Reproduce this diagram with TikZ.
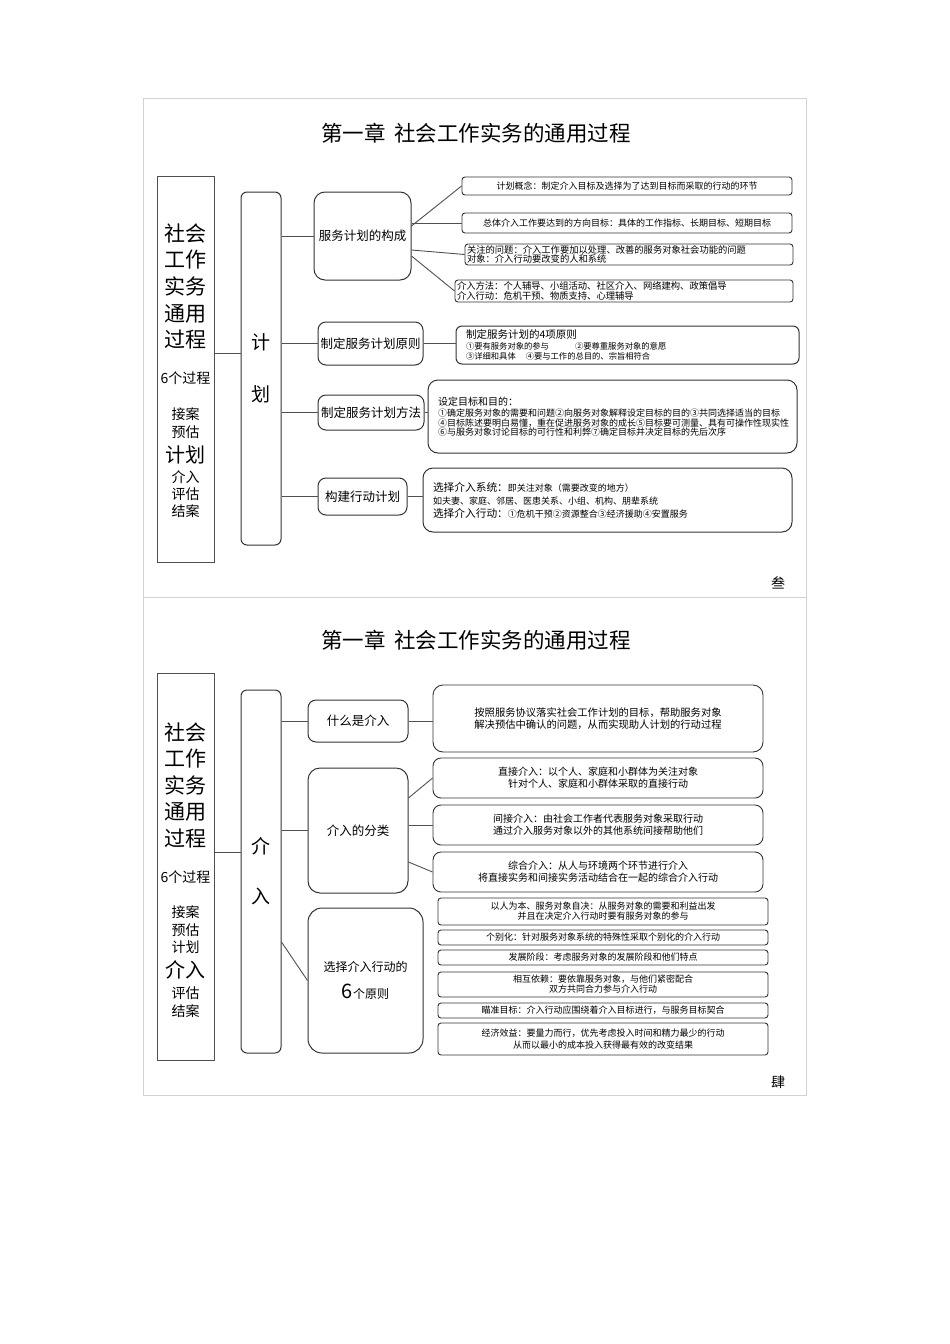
\documentclass[tikz,border=0pt]{standalone}
\usepackage{fontspec}
\setmainfont{Noto Sans CJK SC}
\usepackage{tikz}
\usetikzlibrary{positioning,calc}
\definecolor{swInk}{HTML}{333333}
\definecolor{swLine}{HTML}{505050}
\definecolor{swFrame}{HTML}{D2D2D2}
\tikzset{
  headline/.style={font=\fontsize{21.5}{24}\selectfont, inner sep=0pt},
  pagemark/.style={font=\fontsize{14}{16}\selectfont, inner sep=0pt},
  mainbox/.style={rectangle, draw=swLine, line width=0.9pt, minimum width=57pt, minimum height=386pt},
  coltext/.style={align=center, inner sep=0pt},
  stagebox/.style={rectangle, rounded corners=6pt, draw=swInk, line width=1pt, align=center, minimum width=40pt, font=\fontsize{19}{52}\selectfont},
  topic/.style={rectangle, rounded corners=8pt, draw=swInk, line width=1pt, align=center, inner sep=1pt, font=\fontsize{12.5}{14}\selectfont},
  leaf/.style={rectangle, rounded corners=3pt, draw=swInk, line width=0.9pt, align=center, minimum width=330pt, inner sep=1pt, font=\fontsize{9}{10}\selectfont},
  note/.style={rectangle, rounded corners=10pt, draw=swInk, line width=1pt, align=left, inner xsep=10pt, inner ysep=2pt, font=\fontsize{9}{11}\selectfont},
  link/.style={draw=swLine, line width=0.9pt},
  pageframe/.style={draw=swFrame, line width=0.7pt}
}
\begin{document}
\begin{tikzpicture}[x=1pt, y=-1pt]
\useasboundingbox (0,0) rectangle (950,1344);
% two sheets
\draw[pageframe] (143,98) rectangle (806,597);
\draw[pageframe] (143,597) rectangle (806,1095);

% ---- sheet 1: 计划
\node[headline] (title1) at (476,133) {第一章\hspace{9pt}社会工作实务的通用过程};
\node[mainbox] (main1) at (185.5,369) {};
\node[coltext, font=\fontsize{21}{26.7}\selectfont] (name1) at (185.5,286.5) {社会\\工作\\实务\\通用\\过程};
\node[coltext, font=\fontsize{14}{16}\selectfont] (count1) at (185.5,378) {6个过程};
\node[coltext, font=\fontsize{14}{18}\selectfont] (prev1) at (185.5,423) {接案\\预估};
\node[coltext, font=\fontsize{20}{22}\selectfont] (cur1) at (185.5,455) {计划};
\node[coltext, font=\fontsize{14}{17}\selectfont] (next1) at (185.5,494) {介入\\评估\\结案};
\node[stagebox, minimum height=353pt] (plan) at (261,368.5) {计\\划};

\node[topic, minimum width=97pt, minimum height=88pt, rounded corners=11pt] (cons) at (362.5,236) {服务计划的构成};
\node[topic, minimum width=105pt, minimum height=43pt] (prin) at (370.5,343.5) {制定服务计划原则};
\node[topic, minimum width=106pt, minimum height=35pt] (meth) at (371,412.5) {制定服务计划方法};
\node[topic, minimum width=89pt, minimum height=37pt] (act) at (362.5,496.5) {构建行动计划};

\node[leaf, minimum height=18pt] (a1) at (627,186) {计划概念：制定介入目标及选择为了达到目标而采取的行动的环节};
\node[leaf, minimum height=20pt] (a2) at (627,223) {总体介入工作要达到的方向目标：具体的工作指标、长期目标、短期目标};
\node[leaf, align=left, text width=324pt, minimum width=328pt, minimum height=21pt, inner xsep=2pt, font=\fontsize{9.3}{9.5}\selectfont] (a3) at (629,254.5) {关注的问题：介入工作要加以处理、改善的服务对象社会功能的问题\\对象：介入行动要改变的人和系统};
\node[leaf, align=left, text width=334pt, minimum width=338pt, minimum height=22pt, inner xsep=2pt, font=\fontsize{9.3}{10}\selectfont] (a4) at (624,291) {介入方法：个人辅导、小组活动、社区介入、网络建构、政策倡导\\介入行动：危机干预、物质支持、心理辅导};
\node[note, text width=323pt, minimum height=38pt, rounded corners=6pt, font=\fontsize{8.3}{10.5}\selectfont] (pb) at (627.5,345) {{\fontsize{10.5}{11}\selectfont 制定服务计划的4项原则}\\①要有服务对象的参与\hspace{26pt}②要尊重服务对象的意愿\\③详细和具体\hspace{10pt}④要与工作的总目的、宗旨相符合};
\node[note, text width=349pt, minimum height=73pt, font=\fontsize{9}{9.4}\selectfont] (mc) at (612.5,416.5) {{\fontsize{10}{11}\selectfont 设定目标和目的：}\\[2pt]①确定服务对象的需要和问题②向服务对象解释设定目标的目的③共同选择适当的目标\\④目标陈述要明白易懂，重在促进服务对象的成长⑤目标要可测量、具有可操作性现实性\\⑥与服务对象讨论目标的可行性和利弊⑦确定目标并决定目标的先后次序};
\node[note, text width=349pt, minimum height=64pt, font=\fontsize{9}{13}\selectfont] (ad) at (607.5,500) {{\fontsize{10.7}{13}\selectfont 选择介入系统：}即关注对象（需要改变的地方）\\如夫妻、家庭、邻居、医患关系、小组、机构、朋辈系统\\{\fontsize{10.7}{13}\selectfont 选择介入行动：}①危机干预②资源整合③经济援助④安置服务};
\node[pagemark] (mark1) at (778,583) {叁};

\coordinate (j1) at ([yshift=16pt]main1.east);
\draw[link] (j1) -- (j1 -| plan.west);
\draw[link] (plan.east |- cons.west) -- (cons.west);
\draw[link] (plan.east |- prin.west) -- (prin.west);
\draw[link] (plan.east |- meth.west) -- (meth.west);
\draw[link] (plan.east |- act.west) -- (act.west);
\draw[link] ([yshift=10pt]cons.east) -- (a1.west);
\draw[link] ([yshift=13pt]cons.east) -- (a2.west);
\draw[link] ([yshift=-14pt]cons.east) -- (a3.west);
\draw[link] ([yshift=-20pt]cons.east) -- (a4.west);
\draw[link] (prin.east) -- (prin.east -| pb.west);
\draw[link] (meth.east) -- (meth.east -| mc.west);
\draw[link] (act.east) -- (act.east -| ad.west);

% ---- sheet 2: 介入
\node[headline] (title2) at (476,640) {第一章\hspace{9pt}社会工作实务的通用过程};
\node[mainbox, minimum height=387pt] (main2) at (185.5,866.5) {};
\node[coltext, font=\fontsize{21}{26.5}\selectfont] (name2) at (185.5,785) {社会\\工作\\实务\\通用\\过程};
\node[coltext, font=\fontsize{14}{16}\selectfont] (count2) at (185.5,877) {6个过程};
\node[coltext, font=\fontsize{14}{17.5}\selectfont] (prev2) at (185.5,930) {接案\\预估\\计划};
\node[coltext, font=\fontsize{20}{22}\selectfont] (cur2) at (185.5,970) {介入};
\node[coltext, font=\fontsize{14}{18}\selectfont] (next2) at (185.5,1002) {评估\\结案};
\node[stagebox, minimum height=363pt, font=\fontsize{19}{50}\selectfont] (join) at (261,871.5) {介\\入};

\node[topic, minimum width=100pt, minimum height=42pt] (what) at (358,721) {什么是介入};
\node[topic, minimum width=100pt, minimum height=125pt, rounded corners=12pt] (kind) at (358,830.5) {介入的分类};
\node[topic, minimum width=115pt, minimum height=145pt, rounded corners=14pt, font=\fontsize{12}{27}\selectfont] (pick) at (365.5,980.5) {选择介入行动的\\{\fontsize{20}{22}\selectfont 6}个原则};

\node[leaf, rounded corners=10pt, minimum height=67pt, font=\fontsize{10.3}{12.5}\selectfont] (def) at (598,718.5) {按照服务协议落实社会工作计划的目标，帮助服务对象\\解决预估中确认的问题，从而实现助人计划的行动过程};
\node[leaf, rounded corners=8pt, minimum height=40pt, font=\fontsize{10}{12}\selectfont] (k1) at (598,778) {直接介入：以个人、家庭和小群体为关注对象\\针对个人、家庭和小群体采取的直接行动};
\node[leaf, rounded corners=8pt, minimum height=40pt, font=\fontsize{10}{12}\selectfont] (k2) at (598,825) {间接介入：由社会工作者代表服务对象采取行动\\通过介入服务对象以外的其他系统间接帮助他们};
\node[leaf, rounded corners=8pt, minimum height=40pt, font=\fontsize{10}{12}\selectfont] (k3) at (598,872) {综合介入：从人与环境两个环节进行介入\\将直接实务和间接实务活动结合在一起的综合介入行动};

\node[leaf, minimum height=27pt] (p1) at (603,911.5) {以人为本、服务对象自决：从服务对象的需要和利益出发\\并且在决定介入行动时要有服务对象的参与};
\node[leaf, minimum height=15pt] (p2) at (603,937.5) {个别化：针对服务对象系统的特殊性采取个别化的介入行动};
\node[leaf, minimum height=15pt] (p3) at (603,957.5) {发展阶段：考虑服务对象的发展阶段和他们特点};
\node[leaf, minimum height=25pt] (p4) at (603,984.5) {相互依赖：要依靠服务对象，与他们紧密配合\\双方共同合力参与介入行动};
\node[leaf, minimum height=15pt] (p5) at (603,1010.5) {瞄准目标：介入行动应围绕着介入目标进行，与服务目标契合};
\node[leaf, minimum height=32pt, font=\fontsize{9}{12}\selectfont] (p6) at (603,1039) {经济效益：要量力而行，优先考虑投入时间和精力最少的行动\\从而以最小的成本投入获得最有效的改变结果};
\node[pagemark] (mark2) at (778,1082) {肆};

\coordinate (j2) at ([yshift=14.5pt]main2.east);
\draw[link] (j2) -- (j2 -| join.west);
\draw[link] (join.east |- what.west) -- (what.west);
\draw[link] (join.east |- kind.west) -- (kind.west);
\draw[link] ([yshift=-70.5pt]join.east) -- (pick.west);
\draw[link] (what.east) -- (what.east -| def.west);
\draw[link] ([yshift=32.5pt]kind.east) -- (k1.west);
\draw[link] ([yshift=5.5pt]kind.east) -- (k2.west);
\draw[link] ([yshift=-31.5pt]kind.east) -- (k3.west);
\end{tikzpicture}
\end{document}
